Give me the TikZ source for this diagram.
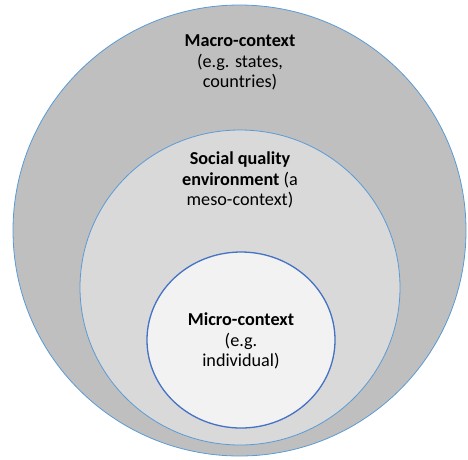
\documentclass[tikz,border=0pt]{standalone}
\usepackage{fontspec}
\setmainfont{Carlito}
\usetikzlibrary{shapes.geometric}
\definecolor{ringblue}{HTML}{5B9BD5}
\definecolor{coreblue}{HTML}{4472C4}
\definecolor{macrofill}{HTML}{BFBFBF}
\definecolor{mesofill}{HTML}{D9D9D9}
\definecolor{microfill}{HTML}{F2F2F2}
\begin{document}
\begin{tikzpicture}[x=1pt,y=-1pt,
  ring/.style={ellipse,draw=ringblue,line width=0.8pt,inner sep=0pt},
  label/.style={align=center,font=\fontsize{18.2}{20.3}\selectfont,text=black,inner sep=0pt}]
  \useasboundingbox (0,0) rectangle (468,459);
  % nested context levels
  \node[ring,fill=macrofill,minimum width=453pt,minimum height=451pt] (macro) at (239.5,230.5) {};
  \node[ring,fill=mesofill,minimum width=320pt,minimum height=315pt] (meso) at (240,287.5) {};
  \node[ellipse,draw=coreblue,line width=1.3pt,inner sep=0pt,fill=microfill,
        minimum width=188pt,minimum height=176pt] (micro) at (241,340) {};
  % level descriptions
  \node[label] (macrotext) at (240,62.5) {\textbf{Macro-context}\\(e.g. states,\\countries)};
  \node[label] (mesotext) at (240,180) {\textbf{Social quality}\\\textbf{environment} (a\\meso-context)};
  \node[label] (microtext) at (241,341) {\textbf{Micro-context}\\(e.g.\\individual)};
\end{tikzpicture}
\end{document}
